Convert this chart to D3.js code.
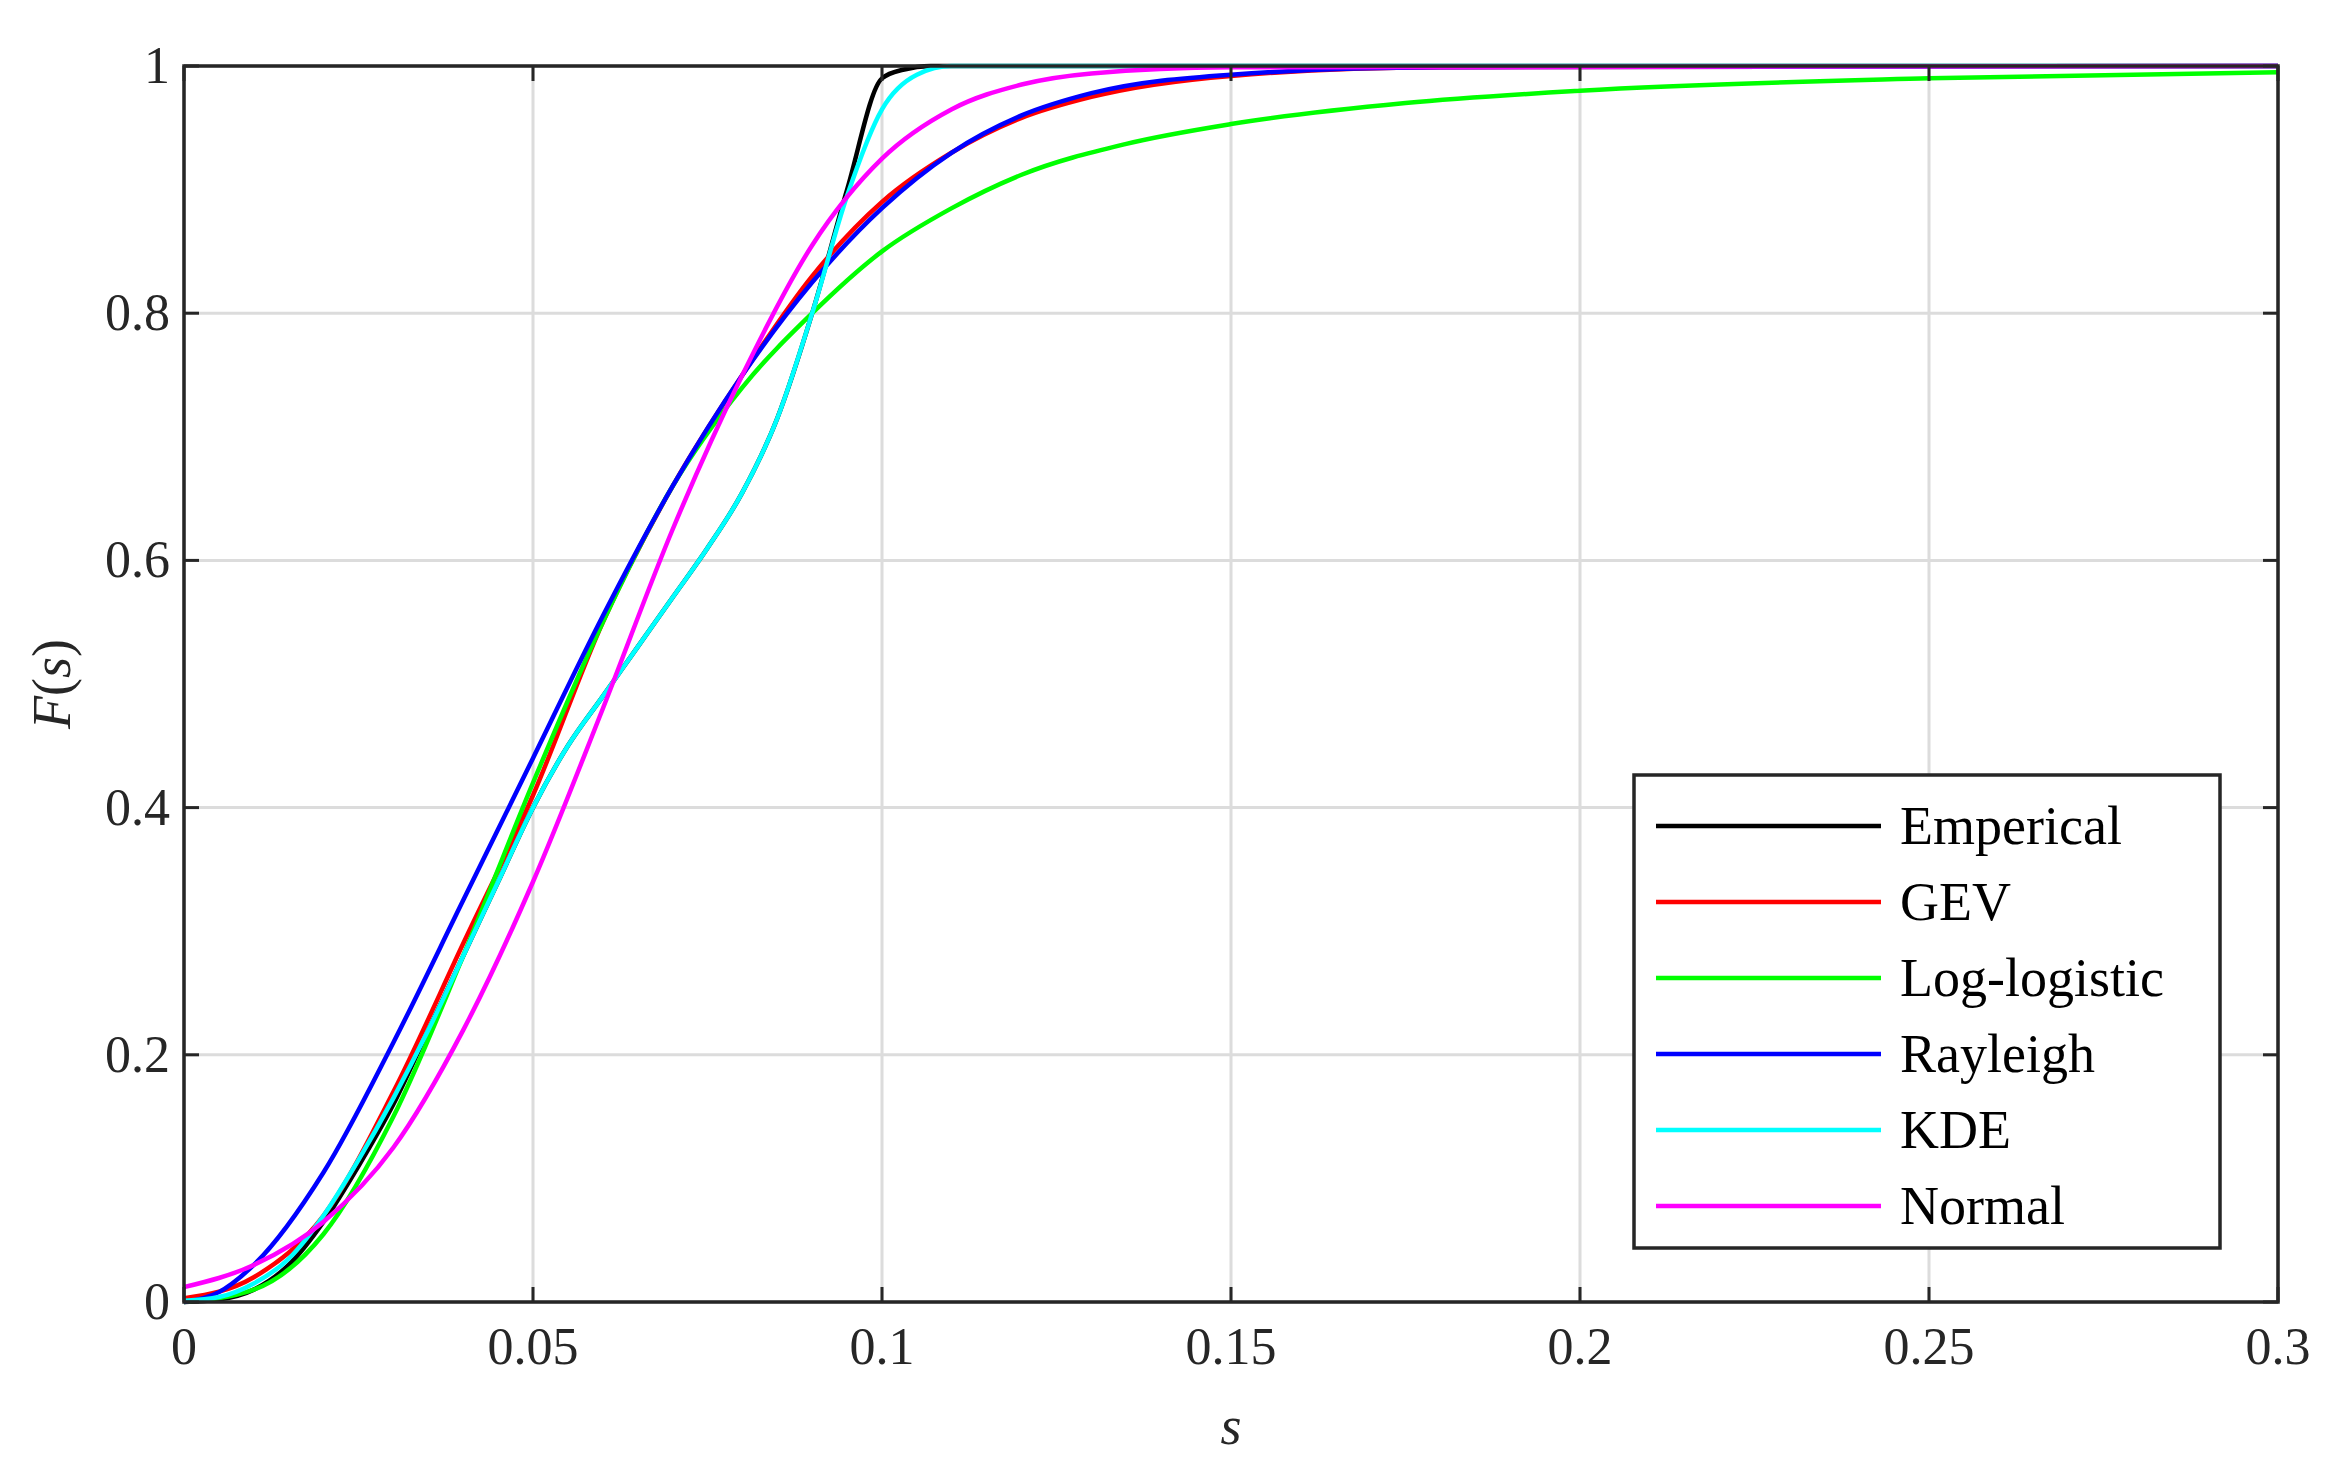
<!DOCTYPE html>
<html><head><meta charset="utf-8">
<script src="https://cdn.jsdelivr.net/npm/d3@7"></script>
<style>body{margin:0;background:#fff}</style></head>
<body><svg id="c" width="2344" height="1480"></svg>
<script>
const xTicks=[0,0.05,0.1,0.15,0.2,0.25,0.3];
const yTicks=[0,0.2,0.4,0.6,0.8,1];
const emp=[[0,0],[0.005,0.002],[0.01,0.01],[0.015,0.03],[0.02,0.065],[0.025,0.11],[0.03,0.16],[0.035,0.22],[0.04,0.28],[0.045,0.34],[0.05,0.4],[0.055,0.45],[0.06,0.49],[0.065,0.53],[0.07,0.57],[0.075,0.61],[0.08,0.655],[0.085,0.715],[0.09,0.8],[0.095,0.9],[0.1,0.99],[0.103,0.997],[0.107,1],[0.3,1]];
const gev=[[0,0.003],[0.01,0.02],[0.02,0.07],[0.03,0.17],[0.04,0.29],[0.05,0.41],[0.06,0.55],[0.07,0.66],[0.08,0.75],[0.09,0.83],[0.1,0.89],[0.11,0.93],[0.12,0.958],[0.13,0.975],[0.15,0.992],[0.18,0.999],[0.3,1]];
const loglog=[[0,0],[0.01,0.01],[0.02,0.055],[0.03,0.15],[0.04,0.28],[0.05,0.42],[0.06,0.55],[0.07,0.66],[0.08,0.74],[0.09,0.8],[0.1,0.85],[0.11,0.885],[0.12,0.912],[0.135,0.937],[0.15,0.953],[0.175,0.97],[0.2,0.98],[0.25,0.99],[0.3,0.995]];
const rayleigh=[[0,0],[0.005,0.008],[0.01,0.03],[0.02,0.105],[0.03,0.21],[0.04,0.325],[0.05,0.44],[0.06,0.555],[0.07,0.66],[0.08,0.75],[0.09,0.825],[0.1,0.885],[0.11,0.93],[0.12,0.96],[0.13,0.978],[0.15,0.993],[0.18,0.999],[0.3,1]];
const kde=[[0,0.001],[0.005,0.004],[0.01,0.015],[0.015,0.035],[0.02,0.07],[0.025,0.115],[0.03,0.165],[0.035,0.22],[0.04,0.28],[0.045,0.34],[0.05,0.4],[0.055,0.45],[0.06,0.49],[0.065,0.53],[0.07,0.57],[0.075,0.61],[0.08,0.655],[0.085,0.715],[0.09,0.8],[0.095,0.895],[0.1,0.965],[0.105,0.993],[0.11,1],[0.3,1]];
const normal=[[0,0.012],[0.01,0.03],[0.02,0.065],[0.03,0.125],[0.04,0.22],[0.05,0.34],[0.06,0.48],[0.07,0.625],[0.08,0.75],[0.09,0.855],[0.1,0.925],[0.11,0.965],[0.12,0.985],[0.13,0.994],[0.15,0.999],[0.3,1]];
const seriesNames=["Emperical","GEV","Log-logistic","Rayleigh","KDE","Normal"];
const seriesData=[emp,gev,loglog,rayleigh,kde,normal];
const colors=["#000000","#ff0000","#00ff00","#0000ff","#00ffff","#ff00ff"];
const drawOrder=[0,1,2,3,4,5];

const L=184,R=2278,T=66,B=1302;
const svg=d3.select("#c");
const x=d3.scaleLinear().domain([0,0.3]).range([L,R]);
const y=d3.scaleLinear().domain([0,1]).range([B,T]);
const font="Liberation Serif, Times New Roman, serif";
const g=svg.append("g");
xTicks.forEach(t=>g.append("line").attr("x1",x(t)).attr("x2",x(t)).attr("y1",T).attr("y2",B).attr("stroke","#dcdcdc").attr("stroke-width",3));
yTicks.forEach(t=>g.append("line").attr("y1",y(t)).attr("y2",y(t)).attr("x1",L).attr("x2",R).attr("stroke","#dcdcdc").attr("stroke-width",3));
const line=d3.line().x(d=>x(d[0])).y(d=>y(d[1])).curve(d3.curveMonotoneX);
svg.append("clipPath").attr("id","cp").append("rect").attr("x",L).attr("y",T-3).attr("width",R-L).attr("height",B-T+6);
drawOrder.forEach(i=>g.append("path").attr("d",line(seriesData[i])).attr("fill","none").attr("stroke",colors[i]).attr("stroke-width",4.5).attr("clip-path","url(#cp)"));
g.append("rect").attr("x",L).attr("y",T).attr("width",R-L).attr("height",B-T).attr("fill","none").attr("stroke","#262626").attr("stroke-width",3.5);
xTicks.forEach(t=>{
  g.append("line").attr("x1",x(t)).attr("x2",x(t)).attr("y1",B).attr("y2",B-15).attr("stroke","#262626").attr("stroke-width",3);
  g.append("line").attr("x1",x(t)).attr("x2",x(t)).attr("y1",T).attr("y2",T+15).attr("stroke","#262626").attr("stroke-width",3);
  g.append("text").attr("x",x(t)).attr("y",B+62).attr("text-anchor","middle").attr("font-family",font).attr("font-size",52).attr("fill","#262626").text(t);
});
yTicks.forEach(t=>{
  g.append("line").attr("x1",L).attr("x2",L+15).attr("y1",y(t)).attr("y2",y(t)).attr("stroke","#262626").attr("stroke-width",3);
  g.append("line").attr("x1",R).attr("x2",R-15).attr("y1",y(t)).attr("y2",y(t)).attr("stroke","#262626").attr("stroke-width",3);
  g.append("text").attr("x",L-14).attr("y",y(t)+17).attr("text-anchor","end").attr("font-family",font).attr("font-size",52).attr("fill","#262626").text(t);
});
g.append("text").attr("x",(L+R)/2).attr("y",1444).attr("text-anchor","middle").attr("font-family",font).attr("font-size",54).attr("font-style","italic").attr("fill","#262626").text("s");
const yl=g.append("text").attr("transform",`translate(70,${(T+B)/2}) rotate(-90)`).attr("text-anchor","middle").attr("font-family",font).attr("font-size",54).attr("fill","#262626");
yl.append("tspan").attr("font-style","italic").text("F");
yl.append("tspan").text("(");
yl.append("tspan").attr("font-style","italic").text("s");
yl.append("tspan").text(")");
const lg=g.append("g");
lg.append("rect").attr("x",1634).attr("y",775).attr("width",586).attr("height",473).attr("fill","#fff").attr("stroke","#262626").attr("stroke-width",3.5);
seriesNames.forEach((n,i)=>{
  const yy=826+i*76;
  lg.append("line").attr("x1",1656).attr("x2",1881).attr("y1",yy).attr("y2",yy).attr("stroke",colors[i]).attr("stroke-width",4.5);
  lg.append("text").attr("x",1900).attr("y",yy+18).attr("font-family",font).attr("font-size",54).attr("fill","#000").text(n);
});
</script></body></html>
